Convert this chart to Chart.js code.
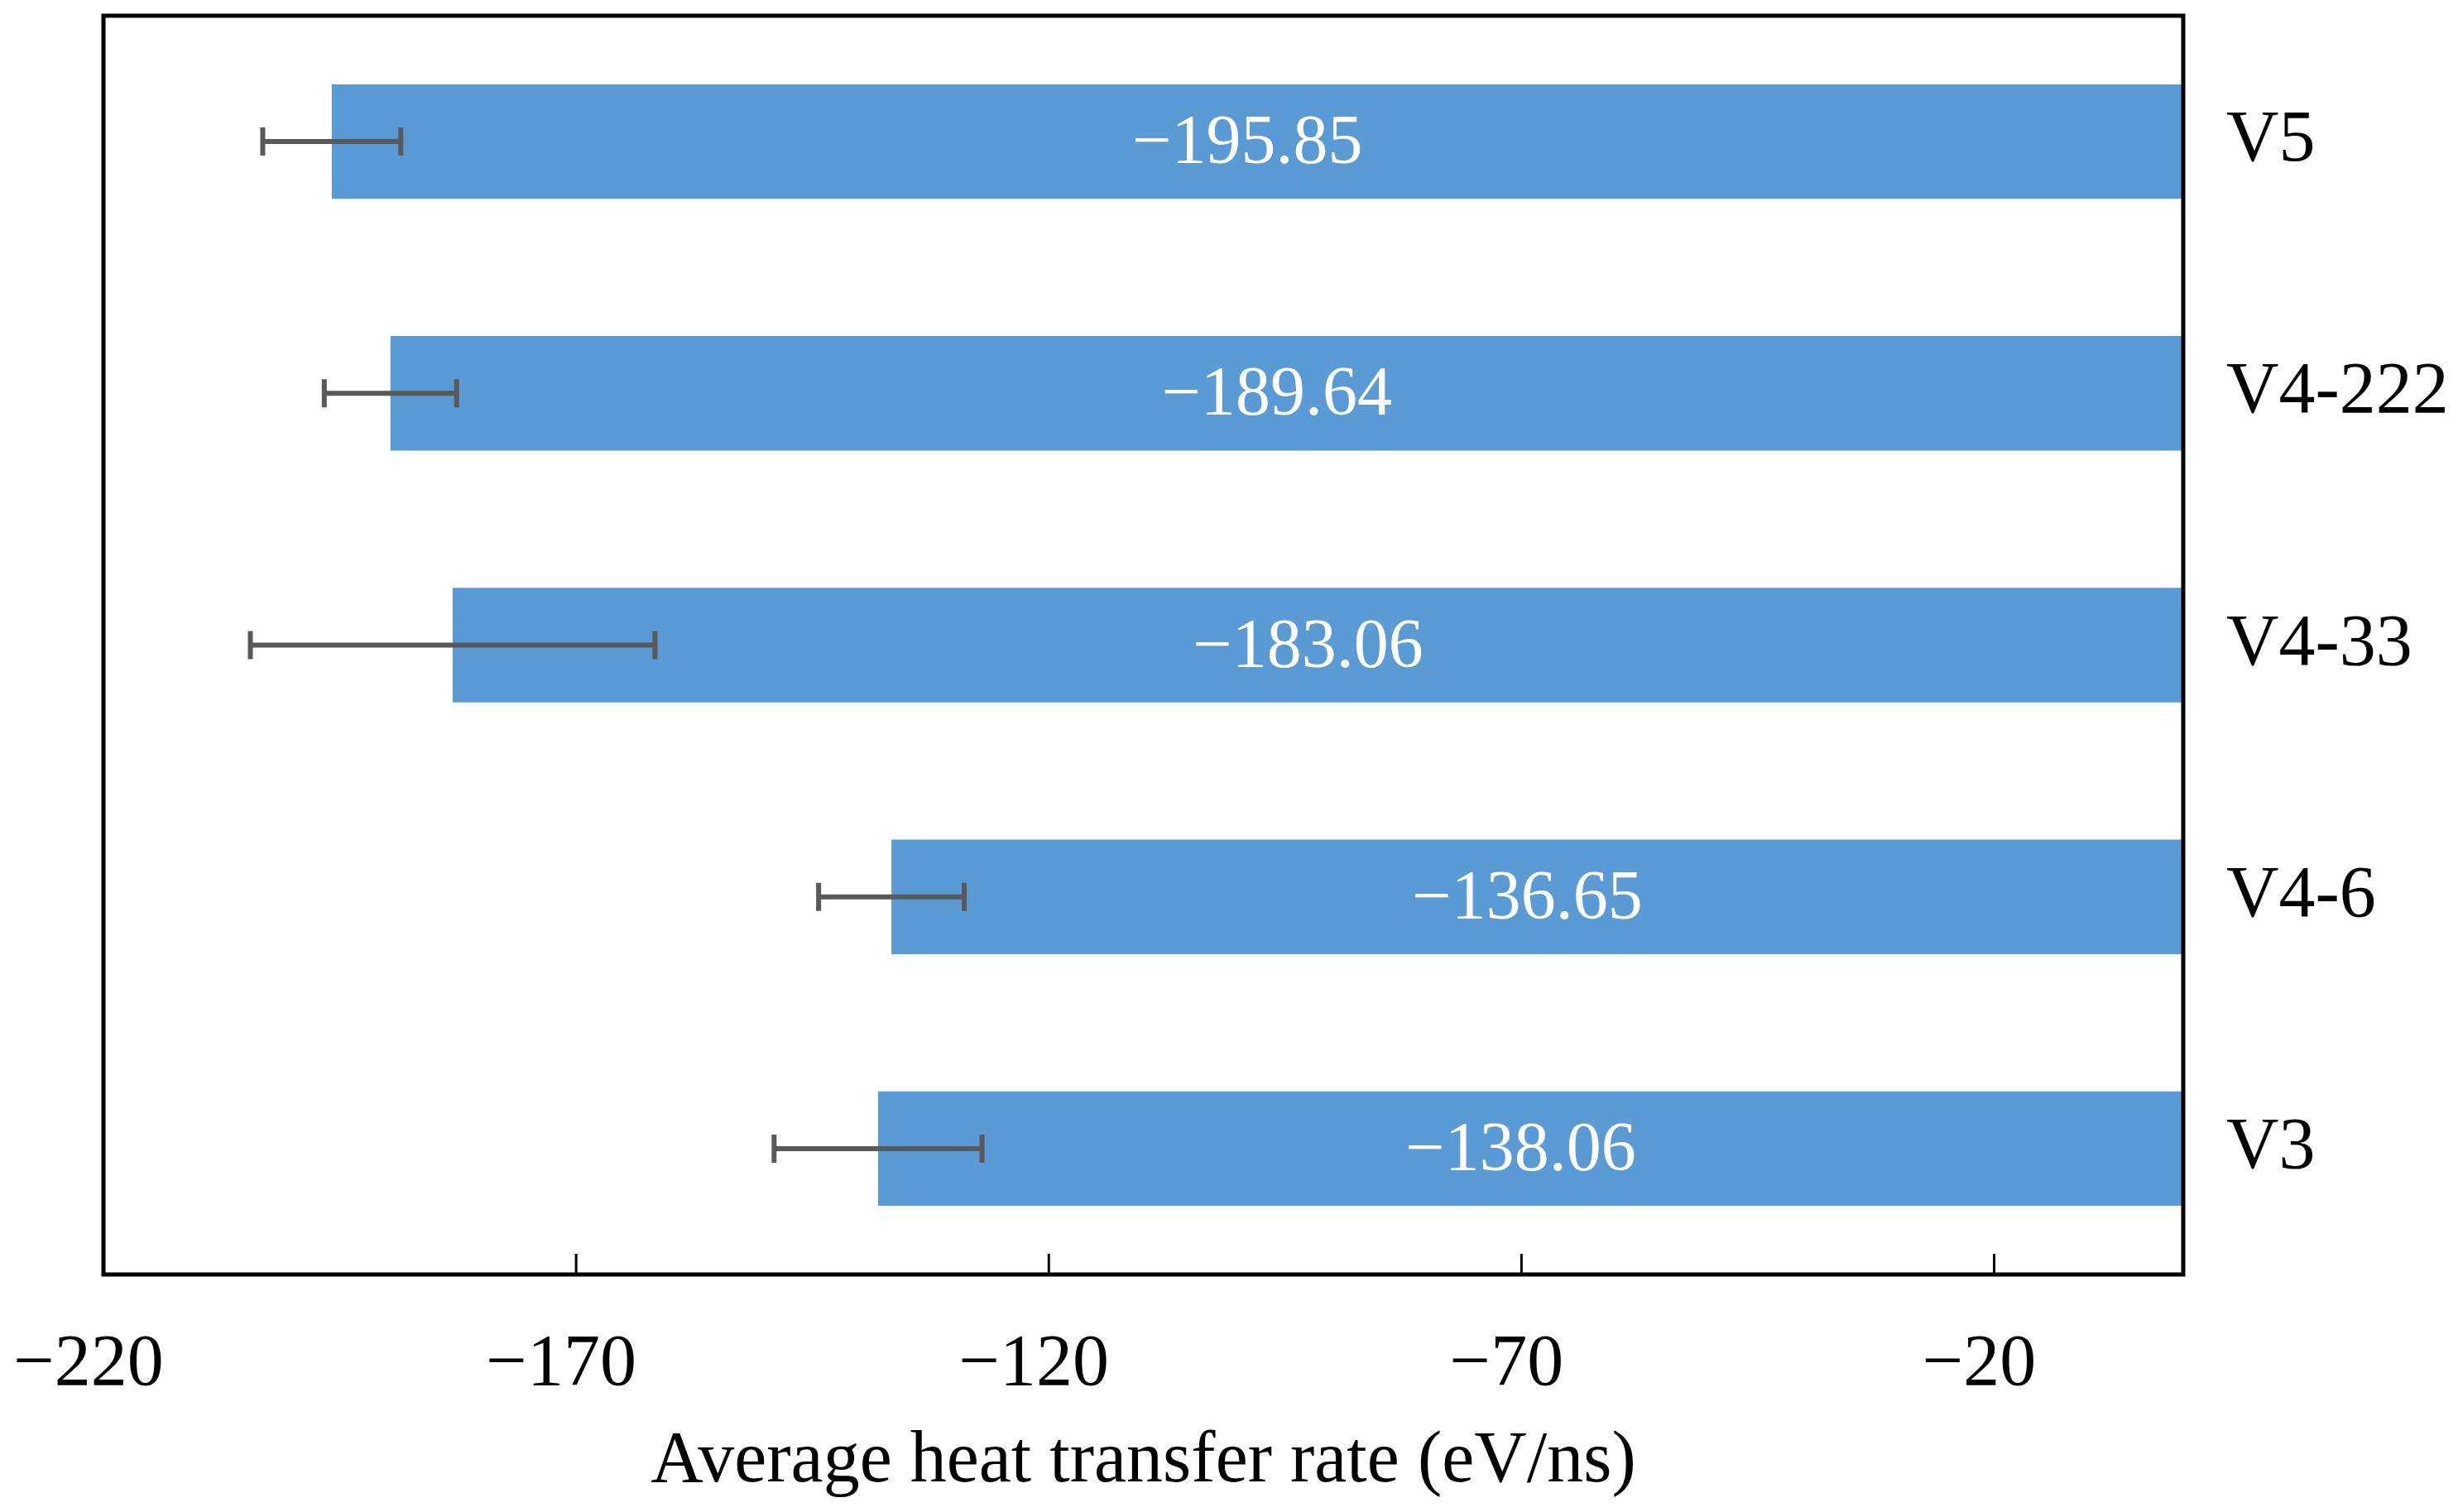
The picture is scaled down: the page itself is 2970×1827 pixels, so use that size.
<!DOCTYPE html>
<html>
<head>
<meta charset="utf-8">
<script src="https://cdn.jsdelivr.net/npm/chart.js@4.4.0/dist/chart.umd.min.js"></script>
<style>
body{margin:0;background:#fff}
#wrap{width:2970px;height:1827px;position:relative}
</style>
</head>
<body>
<div id="wrap"><canvas id="FirstChart"></canvas></div>
<script>
// categories top to bottom
let labels=['V5','V4-222','V4-33','V4-6','V3']
let values=[-195.85,-189.64,-183.06,-136.65,-138.06]
let errors=[7.3,7.0,21.4,7.7,11.0]
let tickVals=[-220,-170,-120,-70,-20]

let serif='"Liberation Serif", "Times New Roman", serif'

function minus(v){
    return (v<0?'\u2212':'')+Math.abs(v)
}

// stop tick labels from pushing the plot area around
function noPad(scale){
    scale.paddingLeft=0
    scale.paddingRight=0
    scale.paddingTop=0
    scale.paddingBottom=0
}

// box round the plot plus inward ticks on the bottom axis
let frame={
    id:'frame',
    afterDraw(chart){
        let c=chart.ctx
        let a=chart.chartArea
        let xs=chart.scales.x
        c.save()
        c.strokeStyle='#000'
        c.lineWidth=3
        tickVals.forEach(t=>{
            let px=xs.getPixelForValue(t)
            c.beginPath()
            c.moveTo(px,a.bottom)
            c.lineTo(px,a.bottom-25)
            c.stroke()
        })
        c.lineWidth=5
        c.strokeRect(a.left,a.top,a.right-a.left,a.bottom-a.top)
        c.restore()
    }
}

// white value text in the bar, then the error bars
let barText={
    id:'barText',
    afterDatasetsDraw(chart){
        let c=chart.ctx
        let xs=chart.scales.x
        let meta=chart.getDatasetMeta(0)
        c.save()
        c.fillStyle='#fff'
        c.font='84px '+serif
        c.textAlign='center'
        c.textBaseline='middle'
        meta.data.forEach((bar,i)=>{
            let mid=(bar.x+bar.base)/2
            c.fillText(minus(values[i].toFixed(2)),mid-12,bar.y+4)
        })
        c.strokeStyle='#595959'
        c.lineWidth=6
        meta.data.forEach((bar,i)=>{
            let x1=xs.getPixelForValue(values[i]-errors[i])
            let x2=xs.getPixelForValue(values[i]+errors[i])
            c.beginPath()
            c.moveTo(x1,bar.y);c.lineTo(x2,bar.y)
            c.moveTo(x1,bar.y-17);c.lineTo(x1,bar.y+17)
            c.moveTo(x2,bar.y-17);c.lineTo(x2,bar.y+17)
            c.stroke()
        })
        c.restore()
    }
}

let ctx=document.getElementById('FirstChart').getContext('2d')
let myChart=new Chart(ctx,{
    type:'bar',
    data:{
        labels:labels,
        datasets:[{
            label:'Average heat transfer rate',
            data:values,
            backgroundColor:'#5B9BD5',
            borderWidth:0,
            categoryPercentage:1,
            barPercentage:0.455
        }]
    },
    options:{
        indexAxis:'y',
        responsive:true,
        maintainAspectRatio:false,
        animation:false,
        devicePixelRatio:1,
        layout:{padding:{left:125,top:19,right:0,bottom:0}},
        plugins:{
            legend:{display:false},
            tooltip:{enabled:false}
        },
        scales:{
            x:{
                min:-220,
                max:0,
                afterBuildTicks(scale){
                    scale.ticks=tickVals.map(v=>({value:v}))
                },
                afterFit(scale){scale.height=287;noPad(scale)},
                grid:{display:false,drawTicks:false},
                border:{display:false},
                ticks:{
                    color:'#000',
                    font:{family:serif,size:88},
                    padding:57,
                    labelOffset:-18,
                    maxRotation:0,
                    callback:v=>minus(v)
                },
                title:{
                    display:true,
                    text:'Average heat transfer rate (eV/ns)',
                    color:'#000',
                    font:{family:serif,size:88},
                    padding:{top:0,bottom:7}
                }
            },
            y:{
                position:'right',
                afterFit(scale){scale.width=332;noPad(scale)},
                grid:{display:false,drawTicks:false},
                border:{display:false},
                ticks:{
                    color:'#000',
                    font:{family:serif,size:88},
                    padding:52
                }
            }
        }
    },
    plugins:[frame,barText]
})
</script>
</body>
</html>
